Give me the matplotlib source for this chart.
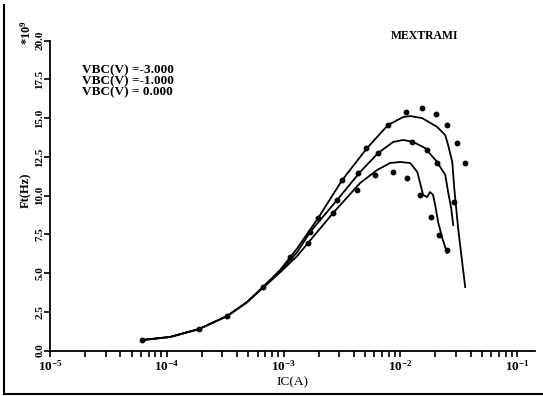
import numpy as np
import matplotlib
matplotlib.use("Agg")
from matplotlib import pyplot as plt
from matplotlib.lines import Line2D
import matplotlib.ticker as mticker

plt.rcParams["font.family"] = ["Liberation Serif", "DejaVu Serif"]
plt.rcParams["font.weight"] = "bold"
plt.rcParams["mathtext.default"] = "regular"

# simulated curves (MEXTRAMI), IC in A, ft in units of 1e9 Hz
ic_m3 = [6.1e-5, 1.07e-4, 1.89e-4, 3.29e-4, 4.88e-4, 6.68e-4, 9.35e-4, 1.31e-3,
         1.98e-3, 3.18e-3, 5.2e-3, 7.87e-3, 1.06e-2, 1.22e-2, 1.54e-2, 2.07e-2,
         2.43e-2, 2.57e-2, 2.79e-2, 2.90e-2, 3.13e-2, 3.39e-2, 3.6e-2]
ft_m3 = [0.68, 0.88, 1.39, 2.23, 3.13, 4.1, 5.2, 6.6,
         8.55, 11.0, 13.07, 14.56, 15.07, 15.13, 15.0, 14.43,
         13.9, 13.26, 12.17, 10.49, 7.9, 5.72, 4.1]

ic_m1 = [6.1e-5, 1.07e-4, 1.89e-4, 3.29e-4, 4.88e-4, 6.68e-4, 9.35e-4, 1.31e-3,
         1.69e-3, 2.88e-3, 4.53e-3, 6.47e-3, 8.7e-3, 1.06e-2, 1.29e-2, 1.63e-2,
         2.07e-2, 2.43e-2, 2.57e-2, 2.73e-2, 2.84e-2]
ft_m1 = [0.68, 0.88, 1.39, 2.23, 3.13, 4.1, 5.15, 6.35,
         7.65, 9.72, 11.52, 12.75, 13.46, 13.59, 13.46, 13.07,
         12.17, 11.33, 10.23, 9.2, 8.1]

ic_0 = [6.1e-5, 1.07e-4, 1.89e-4, 3.29e-4, 4.88e-4, 6.68e-4, 9.35e-4, 1.31e-3,
        1.62e-3, 2.66e-3, 4.53e-3, 6.34e-3, 8.18e-3, 1.0e-2, 1.22e-2, 1.40e-2,
        1.48e-2, 1.57e-2, 1.70e-2, 1.80e-2, 1.91e-2, 1.99e-2, 2.11e-2, 2.29e-2, 2.52e-2]
ft_0 = [0.68, 0.88, 1.39, 2.23, 3.13, 4.05, 5.05, 6.1,
        6.94, 8.88, 10.81, 11.65, 12.1, 12.17, 12.1, 11.52,
        10.81, 10.04, 9.91, 10.23, 10.04, 9.4, 8.3, 7.26, 6.3]

# measured points
meas_ic_m3 = [6.1e-5, 1.89e-4, 3.29e-4, 6.68e-4, 1.14e-3, 1.98e-3, 3.18e-3, 5.1e-3,
              7.87e-3, 1.12e-2, 1.54e-2, 2.03e-2, 2.52e-2, 3.08e-2, 3.6e-2]
meas_ft_m3 = [0.68, 1.39, 2.23, 4.1, 6.04, 8.55, 11.0, 13.07,
              14.56, 15.39, 15.65, 15.26, 14.56, 13.39, 12.1]

meas_ic_m1 = [1.69e-3, 2.88e-3, 4.36e-3, 6.47e-3, 1.26e-2, 1.70e-2, 2.07e-2, 2.90e-2]
meas_ft_m1 = [7.65, 9.72, 11.46, 12.75, 13.46, 12.94, 12.1, 9.59]

meas_ic_0 = [1.62e-3, 2.66e-3, 4.28e-3, 6.1e-3, 8.7e-3, 1.15e-2, 1.48e-2, 1.84e-2, 2.15e-2, 2.52e-2]
meas_ft_0 = [6.94, 8.88, 10.36, 11.33, 11.52, 11.14, 10.04, 8.62, 7.46, 6.49]

legend_lines = ["VBC(V) =-3.000", "VBC(V) =-1.000", "VBC(V) = 0.000"]

fig = plt.figure(figsize=(5.43, 3.96), dpi=100)
ax = fig.add_axes([50 / 543, 1 - 350.6 / 396, 485 / 543, 310 / 396])

for x, y in [(ic_m3, ft_m3), (ic_m1, ft_m1), (ic_0, ft_0)]:
    ax.plot(x, y, color="black", lw=1.3, solid_joinstyle="round")
for x, y in [(meas_ic_m3, meas_ft_m3), (meas_ic_m1, meas_ft_m1), (meas_ic_0, meas_ft_0)]:
    ax.plot(x, y, ls="none", marker="o", ms=3.2, color="black", clip_on=False)

ax.set_xscale("log")
ax.set_xlim(1e-5, 0.1426)
ax.set_ylim(0, 20)
ax.spines["top"].set_visible(False)
ax.spines["right"].set_visible(False)
ax.spines["left"].set_linewidth(1.3)
ax.spines["bottom"].set_linewidth(1.3)

ax.xaxis.set_major_locator(mticker.LogLocator(base=10, numticks=10))
ax.xaxis.set_minor_locator(mticker.LogLocator(base=10, subs=np.arange(2, 10), numticks=20))
ax.xaxis.set_minor_formatter(mticker.NullFormatter())
ax.set_yticks(np.arange(0, 20.1, 2.5))
ax.yaxis.set_major_formatter(mticker.FormatStrFormatter("%.1f"))
ax.tick_params(axis="x", which="both", direction="out", length=4, width=1.2,
               labelsize=9.5, pad=2)
ax.tick_params(axis="y", direction="out", length=4, width=1.2, labelsize=8,
               labelrotation=90, pad=0)
for lab in ax.get_yticklabels():
    lab.set_va("center")

ax.set_xlabel("IC(A)", fontsize=9.5, labelpad=2)
fig.text(26 / 543, 1 - 190 / 396, "Ft(Hz)", rotation=90, fontsize=9,
         ha="center", va="center")
fig.text(26 / 543, 1 - 33 / 396, "*10$^9$", rotation=90, fontsize=9,
         ha="center", va="center")
fig.text(425 / 543, 1 - 36 / 396, "MEXTRAMI", fontsize=8.5, ha="center", va="center")
for i, s in enumerate(legend_lines):
    fig.text(82 / 543, 1 - (70 + 11 * i) / 396, s, fontsize=9.5, ha="left", va="center")

# frame lines at left and bottom of the page
fig.add_artist(Line2D([4 / 543, 4 / 543], [1 - 394 / 396, 1 - 5 / 396],
                      transform=fig.transFigure, color="black", lw=1.5))
fig.add_artist(Line2D([4 / 543, 1.0], [1 - 394 / 396, 1 - 394 / 396],
                      transform=fig.transFigure, color="black", lw=1.5))

fig.savefig("out.png", dpi=100)
